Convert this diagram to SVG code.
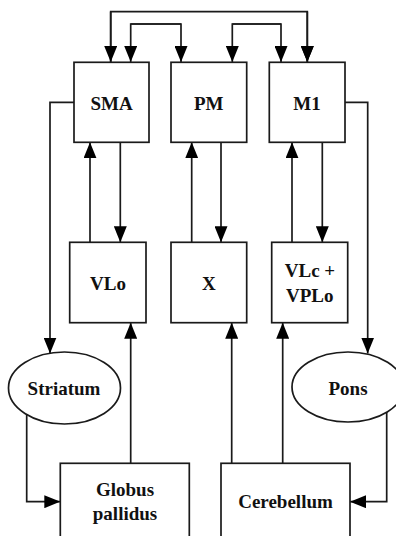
<svg xmlns="http://www.w3.org/2000/svg" width="396" height="536" viewBox="0 0 396 536">
<style>
.box{fill:#fff;stroke:#1a1a1a;stroke-width:1.7}
.lbl{font-family:"Liberation Serif","Times New Roman",serif;font-weight:bold;font-size:19px;fill:#111;text-anchor:middle}
.c{fill:none;stroke:#1a1a1a;stroke-width:1.7}
</style>
<defs>
<marker id="ah" markerUnits="userSpaceOnUse" markerWidth="16" markerHeight="13" refX="16" refY="6.5" orient="auto">
<path d="M0,0 L16,6.5 L0,13 z" fill="#000"/>
</marker>
</defs>
<rect width="396" height="536" fill="#fff"/>
<g id="connectors">
<path class="c" d="M110.7,62 V11.7 H307.3 V62" marker-end="url(#ah)"/>
<path class="c" d="M307.3,11.7 V62" marker-end="url(#ah)"/>
<path class="c" d="M110.7,11.7 V62" marker-end="url(#ah)"/>
<path class="c" d="M130.7,24 H181 V62" marker-end="url(#ah)"/>
<path class="c" d="M181,24 H130.7 V62" marker-end="url(#ah)"/>
<path class="c" d="M232.3,24 H281 V62" marker-end="url(#ah)"/>
<path class="c" d="M281,24 H232.3 V62" marker-end="url(#ah)"/>
<path class="c" d="M90,242.3 V142.3" marker-end="url(#ah)"/>
<path class="c" d="M120.3,142.3 V242.3" marker-end="url(#ah)"/>
<path class="c" d="M191.7,242.3 V142.3" marker-end="url(#ah)"/>
<path class="c" d="M221,142.3 V242.3" marker-end="url(#ah)"/>
<path class="c" d="M292,242.3 V142.3" marker-end="url(#ah)"/>
<path class="c" d="M322.3,142.3 V242.3" marker-end="url(#ah)"/>
<path class="c" d="M74,102.3 H50 V353.5" marker-end="url(#ah)"/>
<path class="c" d="M345,102.3 H367.7 V353.5" marker-end="url(#ah)"/>
<path class="c" d="M130.7,463.3 V322.7" marker-end="url(#ah)"/>
<path class="c" d="M231.7,463.3 V322.7" marker-end="url(#ah)"/>
<path class="c" d="M282.7,463.3 V322.7" marker-end="url(#ah)"/>
<path class="c" d="M26.7,412 V501.7 H60.3" marker-end="url(#ah)"/>
<path class="c" d="M386.7,412 V501.7 H350" marker-end="url(#ah)"/>
</g>
<g id="SMA"><rect class="box" x="74" y="62.3" width="75" height="80"/><text class="lbl" x="111.5" y="110">SMA</text></g>
<g id="PM"><rect class="box" x="171" y="62.3" width="75.7" height="80"/><text class="lbl" x="208.8" y="110">PM</text></g>
<g id="M1"><rect class="box" x="269.3" y="62.3" width="75.7" height="80"/><text class="lbl" x="307" y="110">M1</text></g>
<g id="VLo"><rect class="box" x="69.7" y="242.3" width="76.3" height="80.4"/><text class="lbl" x="108" y="290">VLo</text></g>
<g id="X"><rect class="box" x="171" y="242.3" width="75.7" height="80.4"/><text class="lbl" x="208.8" y="290">X</text></g>
<g id="VLc"><rect class="box" x="271.7" y="242.3" width="76" height="80.4"/><text class="lbl" x="310" y="276.7">VLc +</text><text class="lbl" x="309.7" y="301.7">VPLo</text></g>
<g id="Striatum"><ellipse class="box" cx="64.5" cy="388" rx="56" ry="36"/><text class="lbl" x="64" y="395">Striatum</text></g>
<g id="Pons"><ellipse class="box" cx="348" cy="387" rx="56" ry="35"/><text class="lbl" x="348" y="395">Pons</text></g>
<g id="GlobusPallidus"><rect class="box" x="60.3" y="463.3" width="129" height="80"/><text class="lbl" x="125" y="496">Globus</text><text class="lbl" x="125" y="520">pallidus</text></g>
<g id="Cerebellum"><rect class="box" x="221" y="463.3" width="129" height="80"/><text class="lbl" x="285.5" y="508.3">Cerebellum</text></g>
</svg>
